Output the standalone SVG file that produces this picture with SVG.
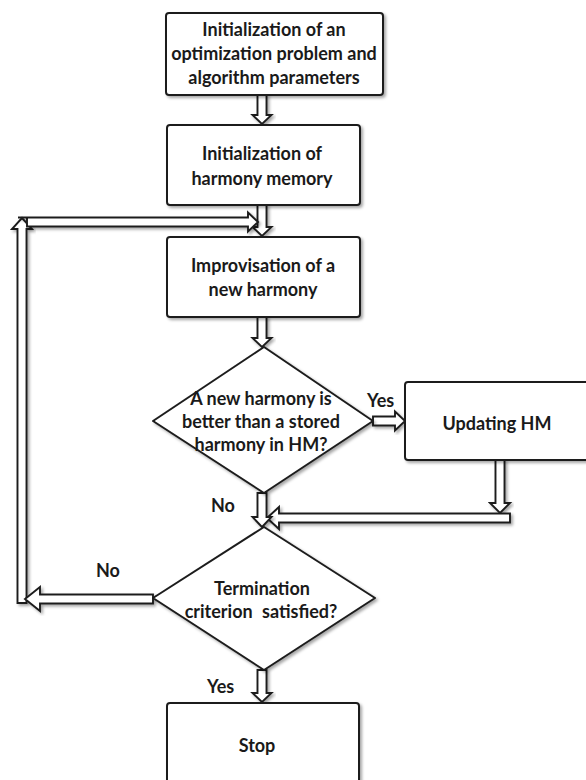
<svg xmlns="http://www.w3.org/2000/svg" width="586" height="780" viewBox="0 0 586 780">
  <defs>
    <filter id="shadow" x="-10%" y="-10%" width="130%" height="130%">
      <feDropShadow dx="2" dy="2" stdDeviation="1.6" flood-color="#000" flood-opacity="0.35"/>
    </filter>
    <style>
      .box { fill: #fff; stroke: #1e1e1e; stroke-width: 2; filter: url(#shadow); }
      .dia { fill: #fff; stroke: #1e1e1e; stroke-width: 2; stroke-linejoin: round; filter: url(#shadow); }
      .arrow { fill: #fff; stroke: #1e1e1e; stroke-width: 1.9; stroke-linejoin: miter; filter: url(#shadow); }
      .t { font-family: Lato, "Open Sans", "Liberation Sans", sans-serif; font-weight: bold; font-size: 18px; fill: #1a1a1a; text-anchor: middle; }
      .lbl { font-family: Lato, "Open Sans", "Liberation Sans", sans-serif; font-weight: bold; font-size: 18px; fill: #1a1a1a; }
    </style>
  </defs>
  <rect width="586" height="780" fill="#fff"/>

  <!-- connectors: hollow block arrows -->
  <g id="connectors">
    <!-- init problem -> init HM -->
    <polygon class="arrow" points="257.5,95 266.5,95 266.5,115 271.5,115 262,124 252.5,115 257.5,115"/>
    <!-- init HM -> improvisation -->
    <polygon class="arrow" points="257.5,205 266.5,205 266.5,227 271.5,227 262,236 252.5,227 257.5,227"/>
    <!-- loop back: up the left side -->
    <polygon class="arrow" points="17.5,603 26.5,603 26.5,229 32,229 22,218 12,229 17.5,229"/>
    <!-- loop back: across to the main column -->
    <polygon class="arrow" points="18,217.5 248,217.5 248,212.5 258,222 248,231.5 248,226.5 27,226.5 27,217.5"/>
    <!-- improvisation -> decision -->
    <polygon class="arrow" points="257.5,317 266.5,317 266.5,338 271.5,338 262,347 252.5,338 257.5,338"/>
    <!-- Yes -> Updating HM -->
    <polygon class="arrow" points="373,416.5 395,416.5 395,411.5 405,421 395,430.5 395,425.5 373,425.5"/>
    <!-- Updating HM down -->
    <polygon class="arrow" points="495.5,460 504.5,460 504.5,503 510,503 500,513 490,503 495.5,503"/>
    <!-- Updating HM back into main column -->
    <polygon class="arrow" points="510,513.5 510,522.5 279,522.5 279,529 267,518 279,507 279,513.5"/>
    <!-- No -> termination check -->
    <polygon class="arrow" points="257.5,493 266.5,493 266.5,517 271.5,517 262,527 252.5,517 257.5,517"/>
    <!-- termination No -> left -->
    <polygon class="arrow" points="153,594.5 153,603.5 40,603.5 40,611 25,599 40,587 40,594.5"/>
    <!-- termination Yes -> Stop -->
    <polygon class="arrow" points="257.5,670 266.5,670 266.5,693 271.5,693 262,702 252.5,693 257.5,693"/>
  </g>

  <g id="init-problem">
    <rect class="box" x="166" y="13" width="217" height="82" rx="3"/>
    <text class="t" x="274" y="36">Initialization of an</text>
    <text class="t" x="274" y="60">optimization problem and</text>
    <text class="t" x="274" y="84">algorithm parameters</text>
  </g>

  <g id="init-hm">
    <rect class="box" x="167" y="125" width="193" height="80" rx="3"/>
    <text class="t" x="262" y="160">Initialization of</text>
    <text class="t" x="262" y="185">harmony memory</text>
  </g>

  <g id="improvise">
    <rect class="box" x="167" y="237" width="193" height="80" rx="3"/>
    <text class="t" x="263" y="272">Improvisation of a</text>
    <text class="t" x="263" y="296">new harmony</text>
  </g>

  <g id="decision-better">
    <path class="dia" d="M264,347 L373,421 L264,493 L153,421 Z"/>
    <text class="t" x="261" y="405">A new harmony is</text>
    <text class="t" x="261" y="428">better than a stored</text>
    <text class="t" x="261" y="451">harmony in HM?</text>
    <text class="lbl" x="367" y="407">Yes</text>
    <text class="lbl" x="211" y="512">No</text>
  </g>

  <g id="update-hm">
    <rect class="box" x="405" y="382" width="190" height="78" rx="3"/>
    <text class="t" x="497" y="430">Updating HM</text>
  </g>

  <g id="decision-stop">
    <path class="dia" d="M264,527 L375,598 L264,670 L153,598 Z"/>
    <text class="t" x="262" y="595">Termination</text>
    <text class="t" x="261" y="618" word-spacing="5">criterion satisfied?</text>
    <text class="lbl" x="96" y="577">No</text>
    <text class="lbl" x="207" y="693">Yes</text>
  </g>

  <g id="stop">
    <rect class="box" x="167" y="703" width="192" height="90" rx="3"/>
    <text class="t" x="257" y="752">Stop</text>
  </g>
</svg>
